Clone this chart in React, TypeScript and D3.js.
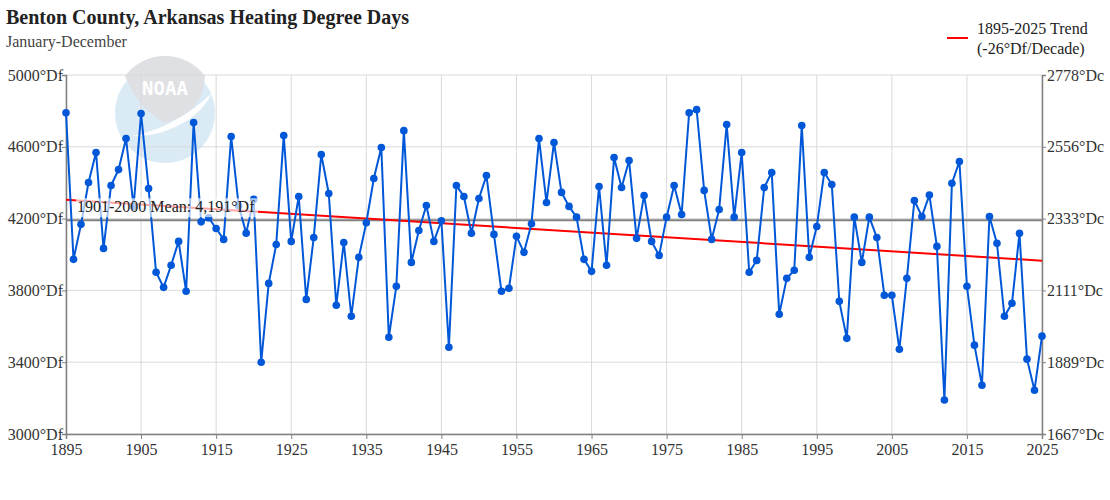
import React, { useEffect, useRef } from 'react';
import * as d3 from 'd3';

// Annual heating degree days, Benton County AR
const years: number[] = d3.range(1895, 2026);
const hdd: number[] = [
  4790, 3973, 4168, 4401, 4568, 4034, 4384, 4473, 4646, 4266,
  4785, 4368, 3901, 3817, 3940, 4073, 3795, 4735, 4182, 4205,
  4145, 4084, 4657, 4271, 4119, 4307, 3400, 3839, 4056, 4663,
  4073, 4323, 3750, 4095, 4557, 4340, 3717, 4067, 3656, 3984,
  4177, 4423, 4596, 3539, 3823, 4690, 3956, 4134, 4273, 4073,
  4188, 3483, 4384, 4323, 4118, 4312, 4440, 4112, 3795, 3812,
  4101, 4012, 4171, 4646, 4290, 4624, 4346, 4268, 4208, 3973,
  3906, 4379, 3940, 4540, 4373, 4524, 4090, 4329, 4073, 3995,
  4208, 4384, 4223, 4790, 4807, 4357, 4084, 4251, 4724, 4208,
  4568, 3901, 3967, 4373, 4457, 3667, 3867, 3912, 4718, 3984,
  4156, 4457, 4390, 3739, 3533, 4208, 3956, 4208, 4095, 3773,
  3773, 3472, 3867, 4301, 4212, 4331, 4045, 3189, 4397, 4518,
  3823, 3495, 3272, 4212, 4062, 3656, 3728, 4118, 3417, 3244,
  3545,
];
const meanValue = 4191;
const yTicks: number[] = [3000, 3400, 3800, 4200, 4600, 5000];
const xTicks: number[] = d3.range(1895, 2026, 10);

const W = 1110;
const H = 500;
const margin = { top: 75, right: 68, bottom: 66, left: 66 };
const blue = '#0057d8';
const font = '"Liberation Serif", "Times New Roman", serif';

const App: React.FC = () => {
  const svgRef = useRef<SVGSVGElement>(null);

  useEffect(() => {
    if (!svgRef.current) return;
    const svg = d3.select(svgRef.current);
    svg.selectAll('*').remove();

    const x = d3.scaleLinear().domain([1895, 2025]).range([margin.left, W - margin.right]);
    const y = d3.scaleLinear().domain([3000, 5000]).range([H - margin.bottom, margin.top]);

    const g = svg.append('g').attr('font-family', font);

    // NOAA watermark
    const logo = g.append('g').attr('opacity', 0.9);
    logo.append('circle').attr('cx', 165).attr('cy', 113).attr('r', 50).attr('fill', '#d8e9f6');
    logo.append('path')
      .attr('d', 'M125,76 A50,50 0 0 1 205,76 Q204,100 188,112 Q176,120 166,123 Q140,112 125,76 Z')
      .attr('fill', '#dcdde1');
    logo.append('path')
      .attr('d', 'M132,136 Q175,128 212,93 Q200,118 168,130 Q150,137 132,136 Z')
      .attr('fill', '#ffffff');
    logo.append('text')
      .attr('x', 165).attr('y', 95)
      .attr('text-anchor', 'middle')
      .attr('font-family', '"DejaVu Sans Mono", monospace')
      .attr('font-weight', 'bold')
      .attr('font-size', 19)
      .attr('fill', '#ffffff')
      .text('NOAA');

    // grid
    g.append('g').selectAll('line').data(yTicks).join('line')
      .attr('x1', margin.left).attr('x2', W - margin.right)
      .attr('y1', d => y(d)).attr('y2', d => y(d))
      .attr('stroke', '#d9d9d9').attr('stroke-width', 1);
    g.append('g').selectAll('line').data(xTicks).join('line')
      .attr('x1', d => x(d)).attr('x2', d => x(d))
      .attr('y1', margin.top).attr('y2', H - margin.bottom)
      .attr('stroke', '#d9d9d9').attr('stroke-width', 1);

    // axes
    const axisColor = '#808080';
    const left = g.append('g').attr('transform', `translate(${margin.left},0)`)
      .call(d3.axisLeft(y).tickValues(yTicks).tickSize(4).tickFormat(d => `${d}°Df`));
    const right = g.append('g').attr('transform', `translate(${W - margin.right},0)`)
      .call(d3.axisRight(y).tickValues(yTicks).tickSize(4)
        .tickFormat(d => `${Math.round((+d * 5) / 9)}°Dc`));
    const bottom = g.append('g').attr('transform', `translate(0,${H - margin.bottom})`)
      .call(d3.axisBottom(x).tickValues(xTicks).tickSize(5).tickFormat(d3.format('d')));
    [left, right, bottom].forEach(a => {
      a.selectAll('path').attr('stroke', axisColor).attr('stroke-width', 1.5);
      a.selectAll('line').attr('stroke', axisColor);
      a.selectAll('text').attr('font-family', font).attr('font-size', 16).attr('fill', '#333');
    });
    left.selectAll('text').attr('x', -3);
    right.selectAll('text').attr('x', 5);
    bottom.selectAll('text').attr('dy', '0.85em').attr('y', 7);

    // mean line
    g.append('line')
      .attr('x1', x(1895)).attr('x2', x(2025))
      .attr('y1', y(meanValue)).attr('y2', y(meanValue))
      .attr('stroke', '#808080').attr('stroke-width', 2);

    // trend (least squares)
    const xm = d3.mean(years)!;
    const ym = d3.mean(hdd)!;
    const slope = d3.sum(years, (yr, i) => (yr - xm) * (hdd[i] - ym)) / d3.sum(years, yr => (yr - xm) ** 2);
    const trend = (yr: number) => ym + slope * (yr - xm);
    g.append('line')
      .attr('x1', x(1895)).attr('x2', x(2025))
      .attr('y1', y(trend(1895))).attr('y2', y(trend(2025)))
      .attr('stroke', '#ff0000').attr('stroke-width', 2);

    // series
    const line = d3.line<number>().x((_, i) => x(years[i])).y(d => y(d));
    g.append('path').datum(hdd)
      .attr('d', line)
      .attr('fill', 'none')
      .attr('stroke', blue)
      .attr('stroke-width', 2);
    g.append('g').selectAll('circle').data(hdd).join('circle')
      .attr('cx', (_, i) => x(years[i])).attr('cy', d => y(d))
      .attr('r', 3.8).attr('fill', blue);

    // mean label
    const lbl = g.append('g');
    lbl.append('rect')
      .attr('x', x(1895) + 10).attr('y', y(meanValue) - 22)
      .attr('width', 182).attr('height', 19)
      .attr('fill', '#ffffff').attr('opacity', 0.65);
    lbl.append('text')
      .attr('x', x(1895) + 11).attr('y', y(meanValue) - 8)
      .attr('font-size', 16).attr('fill', '#222')
      .text(`1901-2000 Mean: ${d3.format(',')(meanValue)}°Df`);

    // title
    g.append('text').attr('x', 6).attr('y', 24)
      .attr('font-size', 20).attr('font-weight', 'bold').attr('fill', '#222')
      .text('Benton County, Arkansas Heating Degree Days');
    g.append('text').attr('x', 6).attr('y', 47)
      .attr('font-size', 16).attr('fill', '#444')
      .text('January-December');

    // legend
    g.append('line').attr('x1', 947).attr('x2', 968).attr('y1', 38).attr('y2', 38)
      .attr('stroke', '#ff0000').attr('stroke-width', 2);
    g.append('text').attr('x', 977).attr('y', 34).attr('font-size', 16).attr('fill', '#222')
      .text('1895-2025 Trend');
    g.append('text').attr('x', 977).attr('y', 54).attr('font-size', 16).attr('fill', '#222')
      .text(`(${Math.round(slope * 10)}°Df/Decade)`);
  }, []);

  return (
    <svg
      ref={svgRef}
      width={W}
      height={H}
      style={{ position: 'absolute', left: 0, top: 0, background: '#fff' }}
    />
  );
};

export default App;
